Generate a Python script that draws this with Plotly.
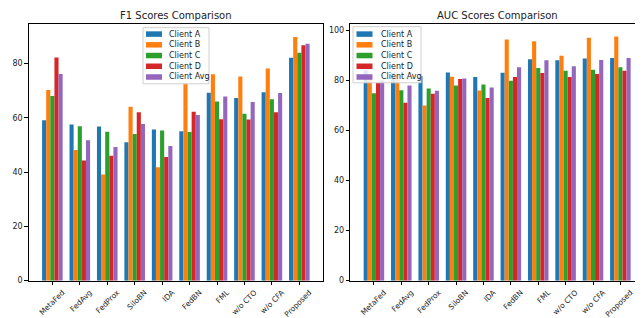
import plotly.graph_objects as go

methods = ["MetaFed", "FedAvg", "FedProx", "SiloBN", "IDA", "FedBN", "FML", "w/o CTO", "w/o CFA", "Proposed"]
series_names = ["Client A", "Client B", "Client C", "Client D", "Client Avg"]
colors = ["#1f77b4", "#ff7f0e", "#2ca02c", "#d62728", "#9467bd"]

f1_a = [59.1, 57.5, 56.8, 51.0, 55.7, 55.0, 69.2, 67.3, 69.4, 82.1]
f1_b = [70.2, 48.1, 39.1, 64.0, 41.8, 72.5, 76.0, 75.2, 78.1, 89.7]
f1_c = [68.0, 56.9, 54.8, 54.0, 55.3, 54.7, 66.0, 61.5, 66.8, 83.9]
f1_d = [82.2, 44.2, 46.0, 62.0, 45.5, 62.2, 59.4, 59.3, 62.0, 86.7]
f1_avg = [76.1, 51.7, 49.2, 57.7, 49.6, 61.0, 67.8, 65.8, 69.1, 87.2]

auc_a = [84.0, 83.0, 81.7, 83.1, 81.3, 83.0, 88.4, 88.0, 88.7, 88.9]
auc_b = [81.0, 82.0, 70.0, 81.4, 75.9, 96.3, 95.6, 89.8, 97.0, 97.5]
auc_c = [74.8, 76.0, 76.7, 77.9, 78.3, 79.8, 84.9, 83.8, 84.2, 85.2]
auc_d = [79.0, 71.0, 74.6, 80.5, 72.9, 81.3, 82.9, 81.3, 82.5, 83.8]
auc_avg = [80.0, 77.9, 75.8, 80.7, 77.1, 85.2, 88.0, 85.6, 88.1, 88.9]

f1_series = [f1_a, f1_b, f1_c, f1_d, f1_avg]
auc_series = [auc_a, auc_b, auc_c, auc_d, auc_avg]

W, H = 643, 318
fig = go.Figure()

for i, (name, vals) in enumerate(zip(series_names, f1_series)):
    fig.add_trace(go.Bar(x=methods, y=vals, name=name, marker=dict(color=colors[i], line=dict(width=0)),
                         xaxis="x", yaxis="y", offsetgroup=str(i), showlegend=False))
for i, (name, vals) in enumerate(zip(series_names, auc_series)):
    fig.add_trace(go.Bar(x=methods, y=vals, name=name, marker=dict(color=colors[i], line=dict(width=0)),
                         xaxis="x2", yaxis="y2", offsetgroup=str(i), showlegend=False))

axis_common = dict(showline=True, linecolor="#000", linewidth=1, mirror=True, ticks="outside",
                   ticklen=3.5, tickwidth=0.8, tickcolor="#000", showgrid=False, zeroline=False)
yfont = dict(family="DejaVu Sans", size=8, color="#222")
xfont = dict(family="DejaVu Sans", size=7.5, color="#222")


def px(x):
    return x / W


def py(y):
    return 1 - y / H


shapes = []
annotations = []


def add_legend(box_x0, box_x1, box_y0, box_y1, patch_x0, patch_x1, text_x, rows):
    shapes.append(dict(type="rect", xref="paper", yref="paper",
                       x0=px(box_x0), x1=px(box_x1), y0=py(box_y1), y1=py(box_y0),
                       fillcolor="rgba(255,255,255,0.85)", line=dict(color="#d0d0d0", width=1), layer="above"))
    for name, col, ry in zip(series_names, colors, rows):
        shapes.append(dict(type="rect", xref="paper", yref="paper",
                           x0=px(patch_x0), x1=px(patch_x1), y0=py(ry + 2.8), y1=py(ry - 2.8),
                           fillcolor=col, line=dict(width=0), layer="above"))
        annotations.append(dict(text=name, x=px(text_x), y=py(ry), xref="paper", yref="paper",
                                showarrow=False, xanchor="left", yanchor="middle",
                                font=dict(family="DejaVu Sans", size=8, color="#222")))


rows = [26.5, 37.4, 48.3, 59.2, 70.1]
add_legend(135, 201, 20, 77, 138, 154, 159, rows)
add_legend(345, 413, 19, 76, 348.5, 364.5, 370.5, rows)

annotations.append(dict(text="F1 Scores Comparison", x=px((20.7 + 315) / 2), y=py(8), xref="paper", yref="paper",
                        showarrow=False, xanchor="center", yanchor="middle",
                        font=dict(family="DejaVu Sans", size=10, color="#222")))
annotations.append(dict(text="AUC Scores Comparison", x=px((342.3 + 636) / 2), y=py(8), xref="paper", yref="paper",
                        showarrow=False, xanchor="center", yanchor="middle",
                        font=dict(family="DejaVu Sans", size=10, color="#222")))

y0 = 1 - 277 / H
y1 = 1 - 16 / H
fig.update_layout(
    width=W, height=H,
    margin=dict(l=0, r=0, t=0, b=0),
    plot_bgcolor="white", paper_bgcolor="white",
    barmode="group", bargap=0.25, bargroupgap=0,
    font=dict(family="DejaVu Sans", size=8, color="#222"),
    showlegend=False,
    xaxis=dict(domain=[px(20.7), px(315)], range=[-0.8625, 9.8625], tickangle=-45, anchor="y",
               ticklabelshift=10, tickfont=xfont, **axis_common),
    yaxis=dict(domain=[y0, y1], range=[0, 94.6], tickvals=[0, 20, 40, 60, 80], anchor="x",
               tickfont=yfont, **axis_common),
    xaxis2=dict(domain=[px(342.3), px(636)], range=[-0.8625, 9.8625], tickangle=-45, anchor="y2",
                ticklabelshift=10, tickfont=xfont, **axis_common),
    yaxis2=dict(domain=[y0, y1], range=[0, 102.6], tickvals=[0, 20, 40, 60, 80, 100], anchor="x2",
                tickfont=yfont, **axis_common),
    shapes=shapes,
    annotations=annotations,
)

fig.write_html("out.html")
